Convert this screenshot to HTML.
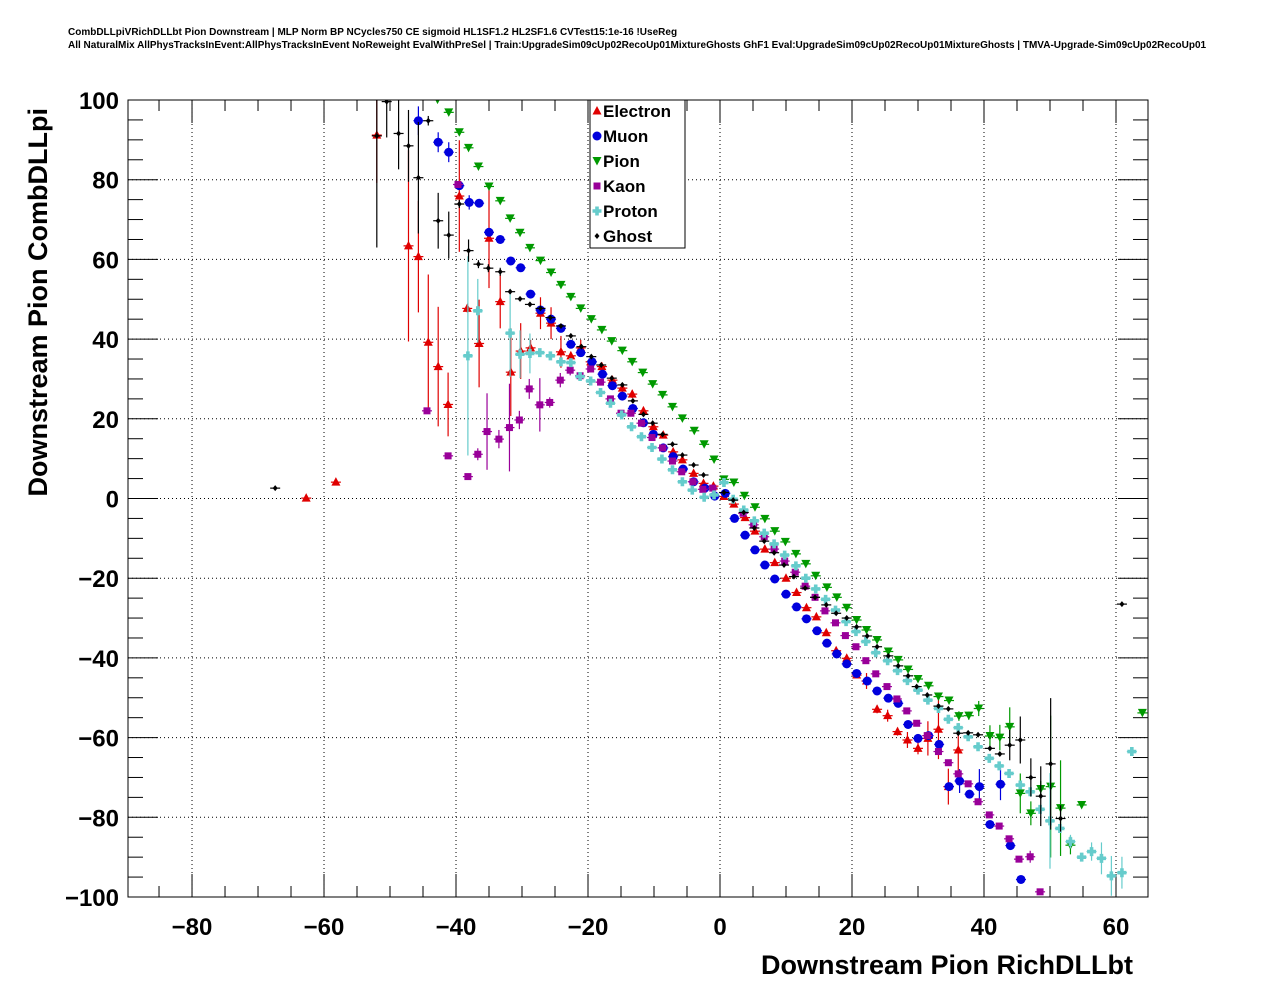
<!DOCTYPE html>
<html><head><meta charset="utf-8"><title>CombDLLpi vs RichDLLbt</title>
<style>
html,body{margin:0;padding:0;background:#fff;}
svg{display:block;font-family:"Liberation Sans",sans-serif;}
.tl{font-weight:bold;font-size:24px;}
</style></head>
<body>
<svg id="chart" width="1276" height="996" viewBox="0 0 1276 996" xmlns="http://www.w3.org/2000/svg">
<defs><clipPath id="frameClip"><rect x="128" y="100" width="1020" height="797"/></clipPath></defs>
<text x="68" y="35" font-size="10" font-weight="bold">CombDLLpiVRichDLLbt Pion Downstream | MLP Norm BP NCycles750 CE sigmoid HL1SF1.2 HL2SF1.6 CVTest15:1e-16 !UseReg</text>
<text x="68" y="48" font-size="10" font-weight="bold">All NaturalMix AllPhysTracksInEvent:AllPhysTracksInEvent NoReweight EvalWithPreSel | Train:UpgradeSim09cUp02RecoUp01MixtureGhosts GhF1 Eval:UpgradeSim09cUp02RecoUp01MixtureGhosts | TMVA-Upgrade-Sim09cUp02RecoUp01</text>
<g id="grid"></g>
<g id="axes"></g>
<g id="marks" clip-path="url(#frameClip)"></g>
<rect x="128" y="100" width="1020" height="797" fill="none" stroke="#000" stroke-width="1"/>
<text x="1133" y="974" text-anchor="end" font-size="27" font-weight="bold">Downstream Pion RichDLLbt</text>
<text transform="translate(47,108) rotate(-90)" text-anchor="end" font-size="27" font-weight="bold">Downstream Pion CombDLLpi</text>
<g id="legend"></g>
</svg>
<script>
const xTicks=[-80,-60,-40,-20,0,20,40,60];
const yTicks=[-100,-80,-60,-40,-20,0,20,40,60,80,100];

const electronX=[-62.7,-58.2,-52.0,-47.2,-45.7,-44.2,-42.7,-41.2,-39.5,-38.3,-36.5,-35.0,-33.3,-31.7,-30.2,-28.7,-27.2,-25.6,-24.1,-22.6,-21.1,-19.6,-17.9,-16.3,-14.8,-13.3,-11.6,-10.1,-8.6,-7.1,-5.7,-4.0,-2.5,-1.0,0.6,2.1,3.8,5.3,6.8,8.3,10.0,11.6,13.1,14.6,16.1,17.6,19.2,20.7,22.2,23.8,25.4,26.9,28.4,30.0,31.5,33.1,34.6,36.1];
const electronY=[0.1,4.1,91.2,63.4,60.7,39.2,33.1,23.6,75.9,47.7,38.9,65.3,49.4,31.7,37.0,37.8,46.5,44.0,36.8,35.8,37.8,34.3,33.1,29.7,27.7,26.2,22.0,18.0,15.9,11.7,9.7,6.3,3.8,3.1,0.5,-1.4,-4.8,-8.2,-12.7,-16.1,-20.0,-23.6,-27.4,-29.7,-33.7,-38.2,-40.1,-44.3,-45.8,-52.9,-54.5,-58.5,-60.6,-62.7,-60.2,-57.9,-72.3,-63.1];
const electronE=[0,0,12,24,14,17,15,8,14,1,11,12.5,6.7,11,7,2,4,4,4,1,2,1,1,1,1,1,1,.5,.5,.5,.5,.5,.5,.5,.5,.5,.5,.5,.5,.5,.5,.5,.5,.5,.5,.5,.5,.5,2,1,1.5,1,2,1.5,4.3,7.5,4.5,6.7];

const muonX=[-45.7,-42.7,-41.1,-39.5,-38.0,-36.5,-35.0,-33.3,-31.7,-30.2,-28.7,-27.2,-25.6,-24.1,-22.6,-21.1,-19.4,-17.8,-16.3,-14.8,-13.2,-11.6,-10.1,-8.6,-7.1,-5.6,-4.0,-2.3,-0.8,0.8,2.2,3.8,5.3,6.8,8.3,10.0,11.6,13.1,14.7,16.2,17.7,19.2,20.7,22.3,23.8,25.5,27.0,28.5,30.0,31.6,33.2,34.7,36.3,37.8,39.3,40.9,42.5,44.0,45.6];
const muonY=[94.8,89.4,86.9,78.5,74.3,74.1,66.8,65.0,59.6,57.9,51.3,47.3,45.0,42.7,38.7,36.6,34.3,31.2,28.3,25.7,22.6,19.0,16.1,12.7,10.5,7.4,4.2,2.6,0.6,1.3,-5.0,-9.2,-12.9,-16.7,-20.2,-24.0,-27.2,-30.2,-33.2,-36.3,-39.0,-41.5,-43.9,-45.8,-48.3,-50.1,-51.4,-56.7,-60.2,-59.5,-61.7,-72.3,-70.9,-74.2,-72.3,-81.8,-71.7,-87.1,-95.6];
const muonE=[3.6,2.5,2.5,1,1.8,1,1,1,1,.8,.8,.5,.5,.5,.5,.5,.5,.5,.5,.5,.5,.5,.5,.5,.5,.5,.5,.5,.5,.5,.5,.5,.5,.5,.5,.5,.5,.5,.5,.5,.5,.5,.5,.5,.5,.5,1,.5,1,.5,1,.5,3,1,4.4,.5,4,.5,.5];

const pionX=[-42.8,-41.1,-39.5,-38.1,-36.6,-35.0,-33.3,-31.8,-30.3,-28.8,-27.2,-25.6,-24.1,-22.6,-21.1,-19.5,-17.9,-16.4,-14.8,-13.3,-11.7,-10.2,-8.7,-7.2,-5.7,-3.9,-2.4,-0.9,0.6,2.1,3.7,5.3,6.8,8.3,9.9,11.5,13.0,14.5,16.2,17.7,19.2,20.7,22.2,23.8,25.5,27.0,28.5,30.0,31.6,33.1,34.7,36.2,37.7,39.2,40.9,42.4,43.9,45.5,47.1,48.6,50.1,51.6,53.1,54.8,64.0];
const pionY=[100.1,96.9,91.9,88,83.3,78.3,74.7,70.3,66.7,62.9,59.7,56.7,53.6,50.6,47.7,45,42.3,39.5,37.1,34.3,31.6,28.7,26,23,20.1,17,13.6,9.8,4.8,4.0,0.7,-2.2,-5.1,-8.2,-10.9,-13.9,-16.4,-19.4,-22.3,-24.8,-27.4,-30.5,-33,-35.5,-38.4,-40.5,-42.9,-45.3,-47,-49.7,-50.7,-54.6,-54.5,-52.7,-59.6,-60,-57.3,-74,-79,-72.9,-72.3,-77.7,-87,-76.9,-53.8];
const pionE=[.5,.5,.5,.5,.5,.5,.5,.5,.5,.5,.5,.5,.5,.5,.5,.5,.5,.5,.5,.5,.5,.5,.5,.5,.5,.5,.5,.5,.5,.5,.5,.5,.5,.5,.5,.5,.5,.5,.5,.5,.5,.5,.5,.5,.5,.5,.5,.5,.5,.5,.5,1.2,1,1.9,2.7,3.2,4.9,5,3,2,17.8,12,2.3,.5,.5];

const kaonX=[-44.4,-41.2,-39.7,-38.2,-36.7,-35.3,-33.5,-31.9,-30.4,-28.9,-27.3,-25.8,-24.2,-22.7,-21.2,-19.6,-18.1,-16.6,-15.0,-13.5,-11.9,-10.3,-8.7,-7.2,-5.8,-4.1,-2.6,-1.1,3.5,5.1,6.7,8.2,9.8,11.4,12.9,14.4,15.9,17.5,19.0,20.6,22.1,23.6,25.3,26.8,28.3,29.8,31.4,33.1,34.6,36.1,37.6,39.1,40.8,42.3,43.8,45.3,47.0,48.5];
const kaonY=[22.0,10.7,78.8,5.5,11.1,16.8,14.9,17.8,19.7,27.5,23.5,24.1,29.7,32.2,30.8,32.5,29.2,25.0,21.4,21.4,18.9,15.3,12.7,9.4,6.7,4.2,2.3,2.6,-3.7,-6.6,-9.6,-12.7,-15.7,-18.5,-22.0,-24.8,-28.2,-31.2,-34.4,-37.2,-40.7,-44.0,-47.2,-50.3,-53.3,-56.4,-59.5,-63.5,-66.3,-69.1,-71.6,-76.1,-79.4,-82.2,-85.4,-90.5,-89.9,-98.7];
const kaonE=[.5,.5,.5,.5,1.5,9.6,2.3,11,2.3,2.5,6.7,1.3,1.8,1.3,.5,.5,.5,.5,.5,.5,.5,.5,.5,.5,.5,.5,.5,.5,.5,.5,.5,.5,.5,.5,.5,.5,.5,.5,.5,.5,.5,.5,.5,.5,.5,.5,.5,.5,.5,.5,.5,.5,.5,.5,.5,.5,1.5,.5];

const protonX=[-38.2,-36.7,-31.8,-30.3,-28.8,-27.3,-25.7,-24.1,-22.6,-21.2,-19.6,-18.1,-16.6,-14.9,-13.4,-11.9,-10.3,-8.8,-7.2,-5.7,-4.2,-2.4,-0.9,0.6,2.0,3.6,5.2,6.7,8.2,9.8,11.5,13.0,14.5,16.0,17.5,19.1,20.6,22.1,23.6,25.4,26.9,28.4,30.0,31.5,33.1,34.6,36.1,37.6,39.1,40.8,42.3,43.8,45.5,47.0,48.5,50.0,51.5,53.1,54.8,56.3,57.8,59.3,60.9,62.4];
const protonY=[35.8,47.1,41.5,36.2,36.4,36.6,35.8,34.3,34.1,30.6,29.5,26.6,23.9,21.0,18.0,15.5,12.8,9.9,7.2,4.2,2.1,0.3,0.9,4.0,-0.2,-2.9,-5.6,-8.7,-11.4,-14.2,-16.9,-20.0,-22.7,-25.3,-28.0,-30.9,-33.4,-35.9,-38.7,-40.7,-43.2,-45.7,-48.1,-50.6,-52.7,-55.4,-57.5,-59.8,-62.3,-65.2,-67.1,-69.0,-71.9,-73.6,-78.0,-80.9,-82.8,-86.1,-90.0,-88.6,-90.3,-94.7,-93.9,-63.5];
const protonE=[25,8,11,6,5,1,1,.5,.5,.5,.5,.5,.5,.5,.5,.5,.5,.5,.5,.5,.5,.5,.5,.5,.5,.5,.5,.5,.5,.5,.5,.5,.5,.5,.5,.5,.5,.5,.5,.5,.5,.5,.5,.5,.5,.5,.5,.5,.5,.5,.5,.5,.5,.5,.5,12,1,1.7,.5,2.3,4,5,4,.5];

const ghostX=[-67.4,-52.0,-50.5,-48.7,-47.2,-45.7,-44.2,-42.7,-41.1,-39.5,-38.1,-36.6,-35.1,-33.3,-31.8,-30.3,-28.8,-27.2,-25.7,-24.1,-22.6,-21.0,-19.5,-18.0,-16.4,-14.8,-13.2,-11.6,-10.2,-8.7,-7.2,-5.7,-4.0,-2.5,0.6,2.0,3.6,5.2,6.7,8.2,9.7,11.2,12.9,14.4,16.1,17.6,19.2,20.7,22.3,23.8,25.5,27.0,28.5,29.8,31.4,33.1,34.6,36.1,37.6,39.1,40.9,42.4,43.9,45.5,47.1,48.6,50.1,51.6,60.9];
const ghostY=[2.6,91,99.6,91.6,88.5,80.5,94.8,69.7,66.1,73.9,62.2,58.8,57.8,56.9,51.9,50.1,48.7,47.7,45.4,43.3,40.8,38.1,35.6,33.5,30.2,28.5,24.5,21.1,18.9,16.1,13.6,10.9,8.4,5.9,1.5,-0.4,-3.5,-7.4,-10.7,-13.6,-16.7,-19.6,-22.5,-24.8,-26.7,-28.8,-30.0,-32.2,-34.5,-37.2,-39.5,-42.0,-44.5,-47.2,-49.3,-52.1,-52.8,-58.9,-58.8,-59.3,-62.7,-64.1,-61.9,-60.6,-70.0,-74.7,-66.6,-80.3,-26.5];
const ghostE=[0,28,9,9,9,14,1.2,7,5.9,1,2.8,1,1,1,.5,.5,.5,.5,.5,.5,.5,.5,.5,.5,.5,.5,.5,.5,.5,.5,.5,.5,.5,.5,.5,.5,.5,.5,.5,.5,.5,.5,.5,.5,.5,.5,.5,.5,.5,.5,.5,.5,.5,.5,.5,.5,.5,.5,.5,.5,.5,.5,3.8,5.9,4.8,7.5,16.5,3.3,0];

const seriesNames=["Electron","Muon","Pion","Kaon","Proton","Ghost"];

const NS="http://www.w3.org/2000/svg";
const X0=128,X1=1148,Y0=100,Y1=897,XMIN=-89.7,XMAX=64.85,YMIN=-100,YMAX=100;
function sx(v){return X0+(v-XMIN)*(X1-X0)/(XMAX-XMIN);}
function sy(v){return Y1-(v-YMIN)*(Y1-Y0)/(YMAX-YMIN);}
function mk(tag,attrs,parent){const e=document.createElementNS(NS,tag);for(const k in attrs)e.setAttribute(k,attrs[k]);parent.appendChild(e);return e;}
const grid=document.getElementById('grid'),axes=document.getElementById('axes'),marks=document.getElementById('marks'),legend=document.getElementById('legend');
function fmt(v){return v<0?"\u2212"+Math.abs(v):String(v);}

for(let v=-85;v<=60;v+=5){
  const x=sx(v),major=(v%20===0);
  const l=mk('line',{x1:x,x2:x,y1:Y1,y2:Y1-(major?23:11),stroke:'#000'},axes);
  
  
  const t=mk('line',{x1:x,x2:x,y1:Y0,y2:Y0+(major?23:11),stroke:'#000'},axes);
  
  
}
xTicks.forEach(v=>{
  const x=sx(v);
  const g=mk('line',{x1:x,x2:x,y1:Y0,y2:Y1,stroke:'#000','stroke-dasharray':'1,3'},grid);
  
  
  const t=mk('text',{x:x,y:935,'text-anchor':'middle',class:'tl'},axes);
  t.textContent=fmt(v);
  
  
});
for(let v=-100;v<=100;v+=5){
  const y=sy(v),major=(v%20===0);
  const l=mk('line',{x1:X0,x2:X0+(major?30:15),y1:y,y2:y,stroke:'#000'},axes);
  
  
  const r=mk('line',{x1:X1,x2:X1-(major?30:15),y1:y,y2:y,stroke:'#000'},axes);
  
  
}
yTicks.forEach(v=>{
  const y=sy(v);
  const g=mk('line',{x1:X0,x2:X1,y1:y,y2:y,stroke:'#000','stroke-dasharray':'1,3'},grid);
  
  
  const t=mk('text',{x:119,y:y+9,'text-anchor':'end',class:'tl'},axes);
  t.textContent=fmt(v);
  
  
});

const colors={Electron:'#e00000',Muon:'#0000dd',Pion:'#009900',Kaon:'#990099',Proton:'#66cccc',Ghost:'#000000'};
function marker(name,x,y,parent){
  const c=colors[name];let e;
  if(name==='Electron')e=mk('polygon',{points:`${x},${y-5} ${x-4.5},${y+3.5} ${x+4.5},${y+3.5}`,fill:c},parent);
  else if(name==='Muon')e=mk('circle',{cx:x,cy:y,r:4.5,fill:c},parent);
  else if(name==='Pion')e=mk('polygon',{points:`${x-4.5},${y-4} ${x+4.5},${y-4} ${x},${y+4.5}`,fill:c},parent);
  else if(name==='Kaon')e=mk('rect',{x:x-3.5,y:y-3.5,width:7,height:7,fill:c},parent);
  else if(name==='Proton')e=mk('path',{d:`M${x-4.5},${y-1.8}h2.7v-2.7h3.6v2.7h2.7v3.6h-2.7v2.7h-3.6v-2.7h-2.7z`,fill:c},parent);
  else e=mk('polygon',{points:`${x},${y-3} ${x+2.5},${y} ${x},${y+3} ${x-2.5},${y}`,fill:c},parent);
  return e;
}
const series=[['Electron',electronX,electronY,electronE],['Muon',muonX,muonY,muonE],['Pion',pionX,pionY,pionE],['Kaon',kaonX,kaonY,kaonE],['Proton',protonX,protonY,protonE],['Ghost',ghostX,ghostY,ghostE]];
series.forEach(([name,xs,ys,es])=>{
  const g=mk('g',{},marks);
  
  
  const c=colors[name];
  xs.forEach((xv,i)=>{
    const x=sx(xv),y=sy(ys[i]),e=es[i]||0;
    const hb=mk('line',{x1:x-5,x2:x+5,y1:y,y2:y,stroke:c,'stroke-width':1.2},g);
    
    
    if(e>0){
      const vb=mk('line',{x1:x,x2:x,y1:sy(ys[i]+e),y2:sy(ys[i]-e),stroke:c,'stroke-width':1.2},g);
      
      
    }
    const m=marker(name,x,y,g);
    
    
  });
});

const lb=mk('rect',{x:590,y:100,width:95,height:148,fill:'#fff',stroke:'#000'},legend);


seriesNames.forEach((n,i)=>{
  const y=111+i*25;
  const g=mk('g',{},legend);
  
  
  marker(n,597,y,g);
  const t=mk('text',{x:603,y:y+6,'font-size':17,'font-weight':'bold'},g);
  t.textContent=n;
});
</script>
</body></html>
